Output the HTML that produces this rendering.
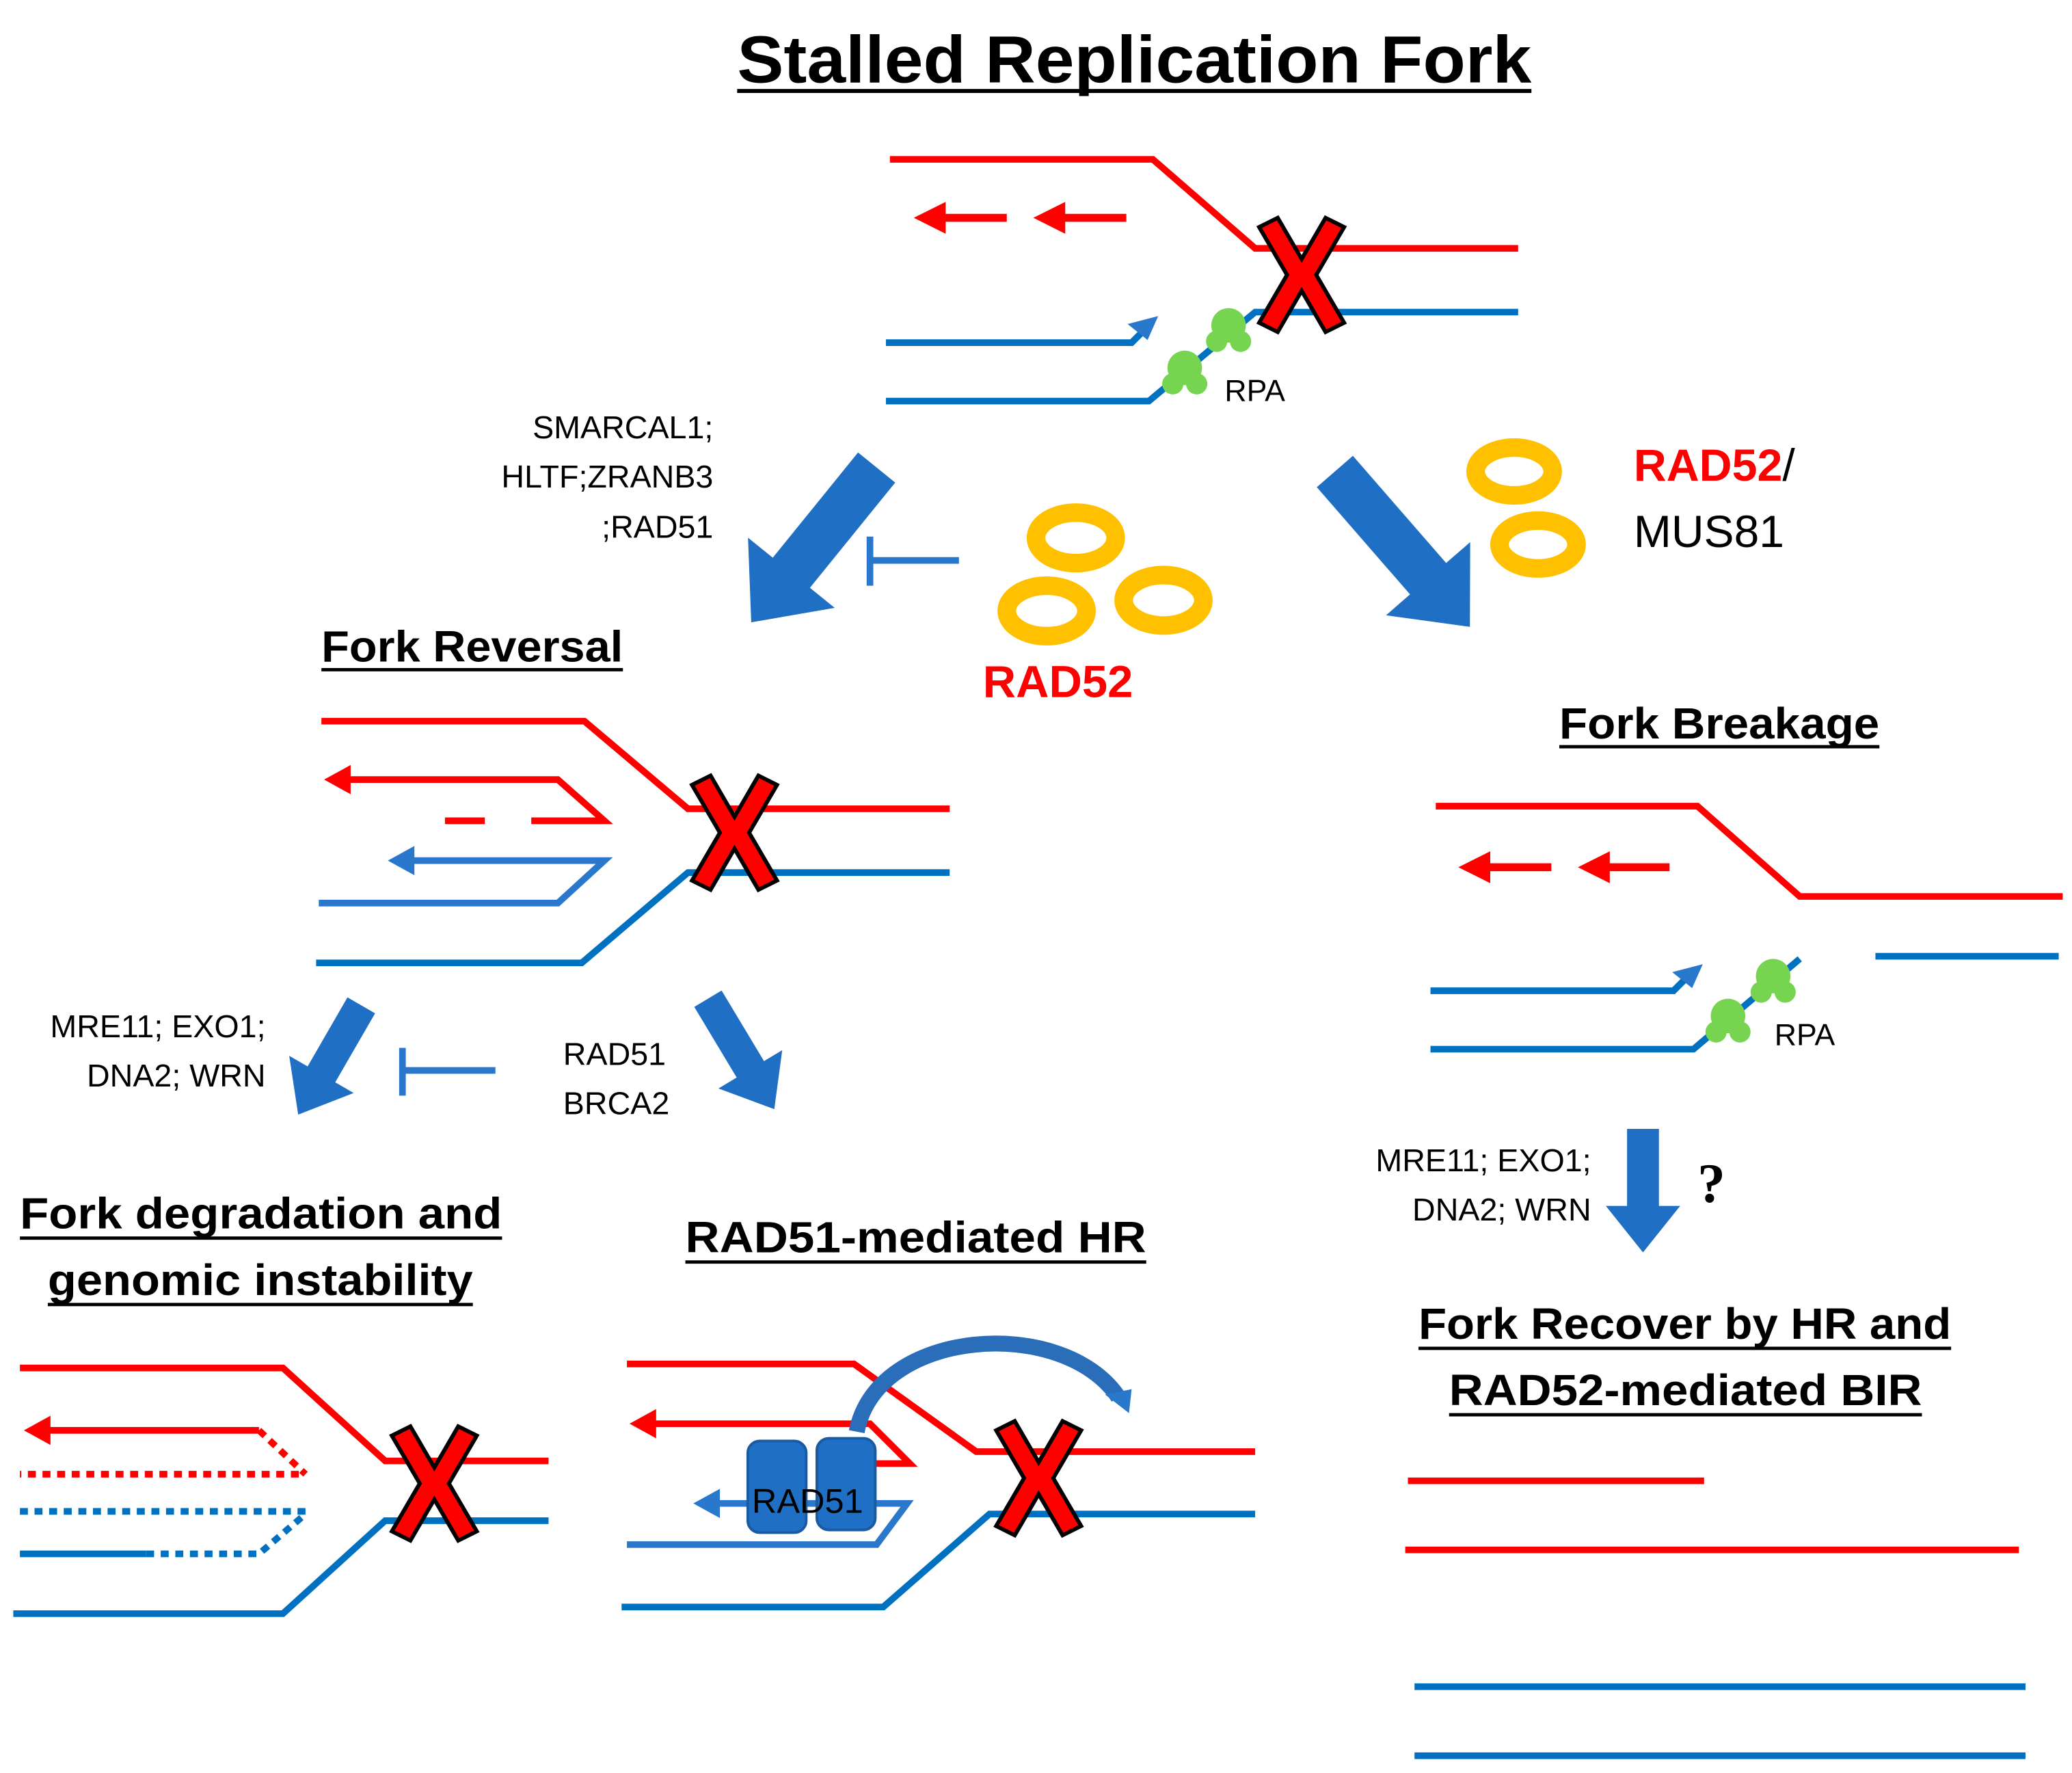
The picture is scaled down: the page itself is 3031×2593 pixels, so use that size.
<!DOCTYPE html>
<html><head><meta charset="utf-8"><style>html,body{margin:0;padding:0;background:#fff}svg{display:block}</style></head>
<body>
<svg width="3031" height="2593" viewBox="0 0 1560 1335" preserveAspectRatio="none" xmlns="http://www.w3.org/2000/svg" font-family="Liberation Sans, sans-serif">
<defs>
<g id="X"><polygon points="-32,-36 -18,-43 0,-12 18,-43 32,-36 11,0 32,36 18,43 0,12 -18,43 -32,36 -11,0" fill="#ff0000" stroke="#000" stroke-width="3" stroke-linejoin="miter"/></g>
<g id="rpa" fill="#77d451"><circle cx="0" cy="0" r="13"/><circle cx="-9" cy="12" r="8"/><circle cx="9" cy="12" r="8"/></g>
</defs>
<g fill="none" stroke-width="5">
<!-- top fork -->
<path d="M670,120 H868 L945,187 H1143" stroke="#ff0000"/>
<path d="M700,164 H758 M790,164 H848" stroke="#ff0000" stroke-width="6"/>
<path d="M667,258 H852 L864,246" stroke="#0070c0"/>
<path d="M667,302 H865 L945,235 H1143" stroke="#0070c0"/>
<!-- fork reversal -->
<path d="M242,543 H440 L518,609 H715" stroke="#ff0000"/>
<path d="M258,587 H420 L455,618 H400" stroke="#ff0000"/>
<path d="M335,618 H365" stroke="#ff0000"/>
<path d="M240,680 H420 L455,648 H305" stroke="#2a78cc"/>
<path d="M238,725 H438 L518,657 H715" stroke="#0070c0"/>
<!-- degradation -->
<path d="M15,1030 H213 L290,1100 H413" stroke="#ff0000"/>
<path d="M30,1077 H195" stroke="#ff0000"/>
<path d="M195,1077 L230,1110 M225,1110 H15" stroke="#ff0000" stroke-dasharray="6,5"/>
<path d="M15,1138 H230" stroke="#0070c0" stroke-dasharray="6,5"/>
<path d="M15,1170 H110" stroke="#0070c0"/>
<path d="M110,1170 H195 L230,1140" stroke="#0070c0" stroke-dasharray="6,5"/>
<path d="M10,1215 H213 L290,1145 H413" stroke="#0070c0"/>
<!-- HR -->
<path d="M472,1027 H643 L735,1093 H945" stroke="#ff0000"/>
<path d="M490,1072 H655 L685,1102 H620" stroke="#ff0000"/>
<path d="M535,1132 H683 L660,1163 H472" stroke="#2a78cc"/>
<path d="M468,1210 H665 L745,1140 H945" stroke="#0070c0"/>
<!-- breakage -->
<path d="M1081,607 H1278 L1355,675 H1553" stroke="#ff0000"/>
<path d="M1110,653 H1168 M1200,653 H1257" stroke="#ff0000" stroke-width="6"/>
<path d="M1412,720 H1550" stroke="#0070c0"/>
<path d="M1077,746 H1260 L1272,734" stroke="#0070c0"/>
<path d="M1077,790 H1275 L1355,722" stroke="#0070c0"/>
<!-- recovery lines -->
<path d="M1060,1115 H1283 M1058,1167 H1520" stroke="#ff0000"/>
<path d="M1065,1270 H1525 M1065,1322 H1525" stroke="#0070c0"/>
<!-- inhibitors -->
<path d="M722,422 H655 M655,404 V441" stroke="#2a78cc" stroke-width="5"/>
<path d="M373,806 H303 M303,789 V825" stroke="#2a78cc" stroke-width="5"/>
<!-- rings -->
<g stroke="#ffc000" stroke-width="14">
<ellipse cx="810" cy="405" rx="30" ry="19"/>
<ellipse cx="788" cy="460" rx="30" ry="19"/>
<ellipse cx="876" cy="452" rx="30" ry="19"/>
<ellipse cx="1140" cy="355" rx="29" ry="18"/>
<ellipse cx="1158" cy="410" rx="29" ry="18"/>
</g>
<!-- curved arrow -->
<path d="M645,1078 C660,1000 800,990 842,1052" stroke="#2a6db8" stroke-width="12"/>
</g>
<!-- arrowheads for strands -->
<g fill="#ff0000">
<polygon points="688,164 712,152 712,176"/><polygon points="778,164 802,152 802,176"/>
<polygon points="244,587 264,576 264,598"/>
<polygon points="18,1077 38,1066 38,1088"/>
<polygon points="474,1072 494,1061 494,1083"/>
<polygon points="1098,653 1122,641 1122,665"/><polygon points="1188,653 1212,641 1212,665"/>
</g>
<g fill="#2a78cc">
<polygon points="292,648 312,637 312,659"/>
<polygon points="522,1132 542,1121 542,1143"/>
<polygon points="872,238 849,244 864,256"/>
<polygon points="1282,726 1259,732 1274,744"/>
<polygon points="850,1064 832,1050 852,1046"/>
</g>
<!-- block arrows -->
<g fill="#1f6fc5">
<polygon transform="translate(660,352) rotate(129)" points="0,-18 102,-18 102,-42 150,0 102,42 102,18 0,18"/>
<polygon transform="translate(1005,355) rotate(49)" points="0,-18 107,-18 107,-42 155,0 107,42 107,18 0,18"/>
<polygon transform="translate(272,757) rotate(120)" points="0,-12 60,-12 60,-28 95,0 60,28 60,12 0,12"/>
<polygon transform="translate(533,752) rotate(59)" points="0,-12 62,-12 62,-28 97,0 62,28 62,12 0,12"/>
<polygon transform="translate(1237,850) rotate(90)" points="0,-12 58,-12 58,-28 93,0 58,28 58,12 0,12"/>
</g>
<!-- RPA -->
<use href="#rpa" x="925" y="245"/><use href="#rpa" x="892" y="277"/>
<use href="#rpa" x="1335" y="735"/><use href="#rpa" x="1301" y="765"/>
<!-- X marks -->
<use href="#X" x="980" y="207"/>
<use href="#X" x="553" y="627"/>
<use href="#X" x="327" y="1117"/>
<use href="#X" x="782" y="1113"/>
<!-- RAD51 boxes -->
<rect x="563" y="1085" width="44" height="69" rx="9" fill="#1f6fc5" stroke="#1a5aa0" stroke-width="2"/>
<rect x="615" y="1083" width="44" height="69" rx="9" fill="#1f6fc5" stroke="#1a5aa0" stroke-width="2"/>
<text x="608" y="1139" font-size="26" text-anchor="middle" fill="#000">RAD51</text>
<!-- Text -->
<g fill="#000">
<text x="555" y="62" font-size="50" font-weight="bold" textLength="598" lengthAdjust="spacingAndGlyphs">Stalled Replication Fork</text>
<rect x="555" y="67" width="598" height="3"/>
<text x="922" y="302" font-size="23">RPA</text>
<text x="1336" y="787" font-size="23">RPA</text>
<g font-size="24" text-anchor="end">
<text x="537" y="330">SMARCAL1;</text>
<text x="537" y="367">HLTF;ZRANB3</text>
<text x="537" y="405">;RAD51</text>
<text x="200" y="781">MRE11; EXO1;</text>
<text x="200" y="818">DNA2; WRN</text>
<text x="1198" y="882">MRE11; EXO1;</text>
<text x="1198" y="919">DNA2; WRN</text>
</g>
<text x="424" y="802" font-size="24">RAD51</text>
<text x="424" y="839" font-size="24">BRCA2</text>
<text x="1230" y="412" font-size="34">MUS81</text>
<text x="1342" y="362" font-size="34">/</text>
<g font-size="33" font-weight="bold">
<text x="242" y="498" textLength="227" lengthAdjust="spacingAndGlyphs">Fork Reversal</text>
<rect x="242" y="503" width="227" height="2.5"/>
<text x="1174" y="556" textLength="241" lengthAdjust="spacingAndGlyphs">Fork Breakage</text>
<rect x="1174" y="561" width="241" height="2.5"/>
<text x="15" y="925" textLength="363" lengthAdjust="spacingAndGlyphs">Fork degradation and</text>
<rect x="15" y="931" width="363" height="2.5"/>
<text x="36" y="975" textLength="320" lengthAdjust="spacingAndGlyphs">genomic instability</text>
<rect x="36" y="981" width="320" height="2.5"/>
<text x="516" y="943" textLength="347" lengthAdjust="spacingAndGlyphs">RAD51-mediated HR</text>
<rect x="516" y="949" width="347" height="2.5"/>
<text x="1068" y="1008" textLength="401" lengthAdjust="spacingAndGlyphs">Fork Recover by HR and</text>
<rect x="1068" y="1014" width="401" height="2.5"/>
<text x="1091" y="1058" textLength="356" lengthAdjust="spacingAndGlyphs">RAD52-mediated BIR</text>
<rect x="1091" y="1064" width="356" height="2.5"/>
</g>
<text x="1278" y="905" font-size="42" font-weight="bold" font-family="Liberation Serif, serif">?</text>
</g>
<text x="740" y="525" font-size="34" font-weight="bold" fill="#ff0000" textLength="113" lengthAdjust="spacingAndGlyphs">RAD52</text>
<text x="1230" y="362" font-size="34" font-weight="bold" fill="#ff0000" textLength="112" lengthAdjust="spacingAndGlyphs">RAD52</text>
</svg>
</body></html>
